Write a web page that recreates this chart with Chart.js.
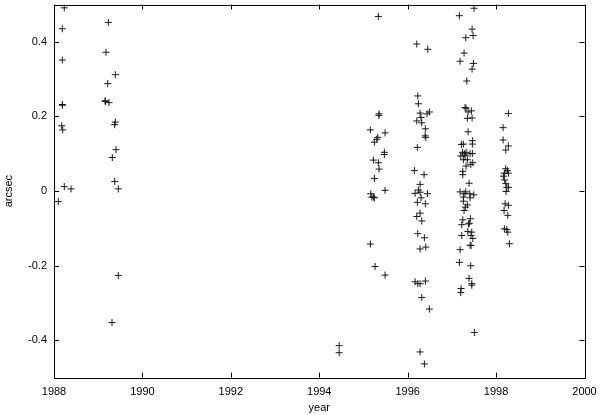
<!DOCTYPE html>
<html>
<head>
<meta charset="utf-8">
<script src="https://cdn.jsdelivr.net/npm/chart.js@4/dist/chart.umd.min.js"></script>
<style>
html,body{margin:0;padding:0;background:#fff;}
#wrap{width:600px;height:415px;}
</style>
</head>
<body>
<div id="wrap"><canvas id="c" width="600" height="415"></canvas></div>
<script>
const epochs = [
  1988.233,1988.188,1988.188,1988.188,1988.192,1988.174,1988.197,1988.233,1988.385,1988.097,
  1989.229,1989.176,1989.387,1989.215,1989.154,1989.165,1989.244,1989.387,1989.373,1989.403,1989.319,1989.373,1989.455,1989.455,1989.312,
  1994.45,1994.45,
  1995.337,1995.353,1995.350,1995.156,1995.489,1995.323,1995.301,1995.247,1995.473,1995.473,1995.224,1995.337,1995.353,1995.247,1995.489,1995.165,1995.224,1995.190,1995.247,1995.156,1995.262,1995.489,
  1996.206,1996.455,1996.229,1996.242,1996.281,1996.439,1996.491,1996.303,1996.206,1996.319,1996.400,1996.394,1996.410,1996.219,1996.152,1996.371,1996.281,1996.242,1996.167,1996.281,1996.446,1996.303,1996.219,1996.400,1996.281,1996.206,1996.319,1996.229,1996.378,1996.281,1996.410,1996.167,1996.229,1996.281,1996.400,1996.319,1996.491,1996.281,1996.378,
  1997.502,1997.170,1997.457,1997.314,1997.480,1997.276,1997.186,1997.486,1997.457,1997.337,1997.299,1997.321,1997.441,1997.367,1997.351,1997.457,1997.367,1997.215,1997.260,1997.464,1997.464,1997.238,1997.283,1997.321,1997.412,1997.464,1997.201,1997.299,1997.260,1997.351,1997.321,1997.427,1997.473,1997.247,1997.247,1997.389,1997.186,1997.314,1997.276,1997.405,1997.495,1997.260,1997.412,1997.260,1997.351,1997.306,1997.276,1997.247,1997.419,1997.396,1997.374,1997.224,1997.360,1997.450,1997.434,1997.224,1997.473,1997.412,1997.434,1997.186,1997.170,1997.427,1997.389,1997.450,1997.450,1997.208,1997.201,1997.509,
  1998.278,1998.158,1998.158,1998.278,1998.219,1998.219,1998.256,1998.188,1998.278,1998.165,1998.188,1998.219,1998.242,1998.278,1998.226,1998.204,1998.278,1998.181,1998.265,1998.188,1998.265,1998.242,1998.301
];
const offsets = [
  0.491,0.435,0.351,0.232,0.230,0.175,0.164,0.012,0.006,-0.028,
  0.452,0.372,0.312,0.288,0.242,0.240,0.237,0.185,0.178,0.111,0.090,0.026,0.006,-0.226,-0.352,
  -0.414,-0.433,
  0.468,0.207,0.203,0.164,0.156,0.144,0.139,0.131,0.104,0.098,0.083,0.076,0.059,0.034,0.002,-0.007,-0.016,-0.016,-0.018,-0.142,-0.202,-0.225,
  0.394,0.380,0.255,0.234,0.209,0.207,0.212,0.197,0.188,0.183,0.167,0.148,0.144,0.117,0.055,0.044,0.018,0.003,-0.006,-0.003,-0.007,-0.018,-0.030,-0.034,-0.059,-0.068,-0.080,-0.114,-0.125,-0.155,-0.150,-0.243,-0.248,-0.248,-0.241,-0.285,-0.316,-0.431,-0.463,
  0.490,0.470,0.434,0.411,0.417,0.370,0.348,0.342,0.327,0.295,0.224,0.222,0.215,0.212,0.195,0.196,0.159,0.125,0.126,0.135,0.126,0.104,0.100,0.104,0.100,0.101,0.094,0.095,0.084,0.084,0.067,0.071,0.076,0.053,0.044,0.021,-0.002,-0.002,-0.007,-0.007,-0.010,-0.016,-0.018,-0.027,-0.037,-0.043,-0.052,-0.077,-0.074,-0.086,-0.088,-0.090,-0.108,-0.110,-0.119,-0.119,-0.127,-0.145,-0.146,-0.157,-0.191,-0.200,-0.234,-0.248,-0.252,-0.261,-0.272,-0.379,
  0.208,0.170,0.137,0.121,0.110,0.060,0.055,0.048,0.048,0.040,0.030,0.020,0.010,0.010,-0.001,-0.034,-0.038,-0.052,-0.065,-0.101,-0.110,-0.103,-0.141
];
const xTicks = [1988, 1990, 1992, 1994, 1996, 1998, 2000];
const yTicks = [-0.4, -0.2, 0, 0.2, 0.4];
const xRange = [1988, 2000];
const yRange = [-0.5, 0.5];

const points = epochs.map((x, i) => ({x: x, y: offsets[i]}));

const FONT = {family: '"Liberation Sans", Arial, sans-serif', size: 11};

const frameTicks = {
  id: 'frameTicks',
  afterDatasetsDraw(chart) {
    const {ctx, chartArea: a, scales} = chart;
    const L = 5;
    ctx.save();
    ctx.strokeStyle = '#000';
    ctx.lineWidth = 1;
    ctx.beginPath();
    xTicks.forEach(v => {
      const px = Math.round(scales.x.getPixelForValue(v)) + 0.5;
      ctx.moveTo(px, a.bottom); ctx.lineTo(px, a.bottom - L);
      ctx.moveTo(px, a.top); ctx.lineTo(px, a.top + L);
    });
    yTicks.forEach(v => {
      const py = Math.round(scales.y.getPixelForValue(v)) + 0.5;
      ctx.moveTo(a.left, py); ctx.lineTo(a.left + L, py);
      ctx.moveTo(a.right, py); ctx.lineTo(a.right - L, py);
    });
    ctx.stroke();
    ctx.strokeRect(Math.round(a.left) + 0.5, Math.round(a.top) + 0.5,
                   Math.round(a.right - a.left), Math.round(a.bottom - a.top));
    ctx.restore();
  }
};

new Chart(document.getElementById('c'), {
  type: 'scatter',
  data: {
    datasets: [{
      data: points,
      pointStyle: 'cross',
      pointRadius: 3.5,
      pointHoverRadius: 3.5,
      borderColor: '#1a1a1a',
      backgroundColor: '#1a1a1a',
      pointBorderWidth: 1
    }]
  },
  options: {
    responsive: false,
    animation: false,
    events: [],
    layout: {padding: {left: 0, right: 15.5, top: 3.5, bottom: 0}},
    plugins: {legend: {display: false}, tooltip: {enabled: false}},
    scales: {
      x: {
        type: 'linear',
        min: xRange[0], max: xRange[1],
        grid: {display: false, drawTicks: false},
        border: {display: false},
        afterBuildTicks: s => { s.ticks = xTicks.map(v => ({value: v})); },
        ticks: {
          font: FONT, color: '#000', padding: 8, maxRotation: 0, autoSkip: false,
          callback: v => String(v)
        },
        title: {display: true, text: 'year', font: FONT, color: '#000', padding: {top: 0, bottom: 0}},
        afterFit: s => { s.height = 37.3; s.paddingLeft = 0; s.paddingRight = 0; }
      },
      y: {
        type: 'linear',
        min: yRange[0], max: yRange[1],
        grid: {display: false, drawTicks: false},
        border: {display: false},
        afterBuildTicks: s => { s.ticks = yTicks.map(v => ({value: v})); },
        ticks: {
          font: FONT, color: '#000', padding: 7, autoSkip: false,
          callback: v => String(Number(v.toFixed(1)))
        },
        title: {display: true, text: 'arcsec', font: FONT, color: '#000', padding: {top: 2, bottom: 0}},
        afterFit: s => { s.width = 54; s.paddingTop = 0; s.paddingBottom = 0; }
      }
    }
  },
  plugins: [frameTicks]
});
</script>
</body>
</html>
